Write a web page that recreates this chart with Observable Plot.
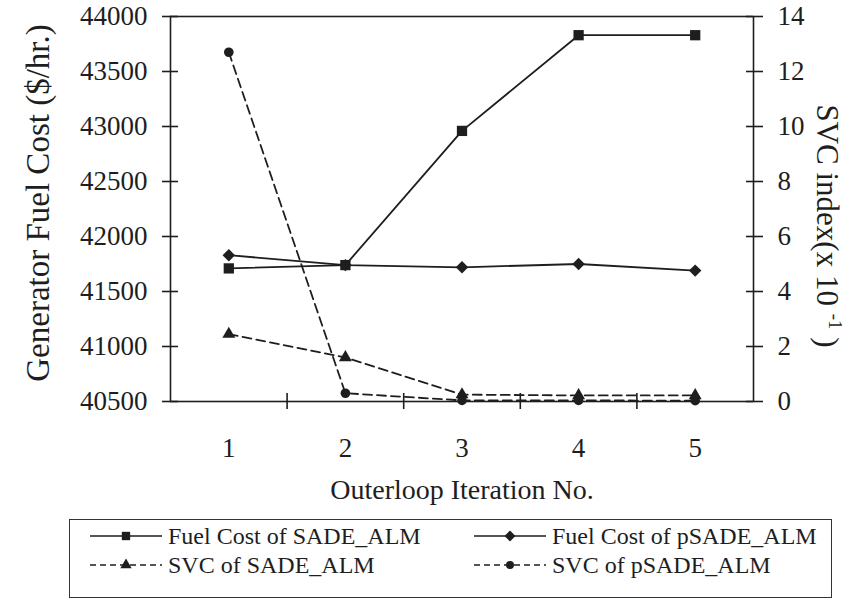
<!DOCTYPE html>
<html>
<head>
<meta charset="utf-8">
<script src="https://cdn.jsdelivr.net/npm/d3@7"></script>
<script src="https://cdn.jsdelivr.net/npm/@observablehq/plot@0.6"></script>
<style>
  html, body { margin: 0; padding: 0; background: #fff; }
  body { font-family: "Liberation Serif", "Times New Roman", serif; color: #1e1e1e; }
  #wrap { position: relative; width: 868px; height: 606px; overflow: hidden; }
  #legend { position: absolute; left: 69px; top: 519px; width: 763px; height: 79px;
            border: 1.5px solid #333; box-sizing: border-box; }
  .item { position: absolute; display: flex; align-items: center; height: 28px; }
  .item span { font-size: 24px; white-space: nowrap; margin-left: 6px; }
</style>
</head>
<body>
<div id="wrap"><div id="chart"></div><div id="legend"></div></div>
<script>
// ---- data ----
const iterations = [1, 2, 3, 4, 5];
const fuelSADE  = [41710, 41740, 42960, 43830, 43830];   // $/hr (left axis)
const fuelPSADE = [41830, 41740, 41720, 41750, 41690];   // $/hr (left axis)
const svcSADE   = [2.45, 1.6, 0.25, 0.22, 0.22];         // x 10^-1 (right axis)
const svcPSADE  = [12.7, 0.3, 0.04, 0.04, 0.03];         // x 10^-1 (right axis)
const leftTicks  = [40500, 41000, 41500, 42000, 42500, 43000, 43500, 44000];
const rightTicks = [0, 2, 4, 6, 8, 10, 12, 14];
const seriesNames = ["Fuel Cost of SADE_ALM", "Fuel Cost of pSADE_ALM", "SVC of SADE_ALM", "SVC of pSADE_ALM"];
const xTitle = "Outerloop Iteration No.";
const yTitle = "Generator Fuel Cost ($/hr.)";
const y2Title = "SVC index(x 10 -1 )";

// ---- layout ----
const W = 868, H = 510;
const mL = 170, mR = 115, mT = 16, mB = 109;
const innerW = W - mL - mR, innerH = H - mT - mB;
const ink = "#1e1e1e";

// right axis (0..14) mapped onto the left scale (40500..44000)
const toLeft = v => 40500 + v * 250;
const xBoundaries = iterations.slice(0, -1).map(d => d + 0.5);

const series = [
  {name: seriesNames[0], values: fuelSADE,  right: false, symbol: "square",   r: 5.8, dash: null},
  {name: seriesNames[1], values: fuelPSADE, right: false, symbol: "diamond2", r: 5.6, dash: null},
  {name: seriesNames[2], values: svcSADE,   right: true,  symbol: "triangle", r: 4.8, dash: "9,5"},
  {name: seriesNames[3], values: svcPSADE,  right: true,  symbol: "circle",   r: 4.8, dash: "9,5"}
];

const seriesMarks = series.flatMap(s => {
  const rows = iterations.map((it, i) => ({x: it, y: s.right ? toLeft(s.values[i]) : s.values[i]}));
  return [
    Plot.line(rows, {x: "x", y: "y", stroke: ink, strokeWidth: 1.8, strokeDasharray: s.dash}),
    Plot.dot(rows, {x: "x", y: "y", symbol: s.symbol, r: s.r, fill: ink, stroke: null})
  ];
});

const chart = Plot.plot({
  width: W, height: H,
  marginLeft: mL, marginRight: mR, marginTop: mT, marginBottom: mB,
  style: {fontFamily: '"Liberation Serif", "Times New Roman", serif', fontSize: "27px", color: ink, background: "#fff", overflow: "visible"},
  x: {domain: [0.5, 5.5], label: null},
  y: {domain: [40500, 44000], label: null},
  marks: [
    Plot.frame({stroke: ink, strokeWidth: 1.6}),
    // left axis
    Plot.axisY({ticks: leftTicks, tickSize: 8, tickPadding: 15, tickFormat: d => String(d), label: null, strokeWidth: 1.6}),
    Plot.tickY(leftTicks, {y: d => d, insetRight: innerW - 8, stroke: ink, strokeWidth: 1.6}),
    // right axis
    Plot.axisY({anchor: "right", ticks: rightTicks.map(toLeft), tickSize: 9, tickPadding: 15,
                tickFormat: d => String(Math.round((d - 40500) / 250)), label: null, strokeWidth: 1.6}),
    Plot.tickY(rightTicks.map(toLeft), {y: d => d, insetLeft: innerW - 7, stroke: ink, strokeWidth: 1.6}),
    // bottom axis: boundary ticks and category labels
    Plot.axisX({ticks: xBoundaries, tickSize: 8, tickFormat: () => "", label: null, strokeWidth: 1.6}),
    Plot.tickX(xBoundaries, {x: d => d, insetTop: innerH - 8, stroke: ink, strokeWidth: 1.6}),
    Plot.axisX({ticks: iterations, tickSize: 0, tickPadding: 36, tickFormat: d => String(d), label: null}),
    // titles
    Plot.text([xTitle], {text: d => d, frameAnchor: "bottom", dy: 89, lineAnchor: "middle", textAnchor: "middle", fontSize: 28, fill: ink}),
    Plot.text([yTitle], {text: d => d, frameAnchor: "left", dx: -132, dy: -6, rotate: -90, lineAnchor: "middle", textAnchor: "middle", fontSize: 33, fill: ink}),
    Plot.text([y2Title], {text: d => d, frameAnchor: "right", dx: 73, dy: 17, rotate: 90, lineAnchor: "middle", textAnchor: "middle", fontSize: 31, fill: ink}),
    ...seriesMarks
  ]
});
document.getElementById("chart").appendChild(chart);

// superscript for the right title
const t2 = Array.from(chart.querySelectorAll("text")).find(t => t.textContent === y2Title);
if (t2) {
  t2.textContent = "";
  const ns = "http://www.w3.org/2000/svg";
  const a = document.createElementNS(ns, "tspan"); a.textContent = "SVC index(x 10 ";
  const b = document.createElementNS(ns, "tspan"); b.textContent = "-1";
  b.setAttribute("font-size", "19"); b.setAttribute("dy", "-12");
  const c = document.createElementNS(ns, "tspan"); c.textContent = " )"; c.setAttribute("dy", "12");
  t2.append(a, b, c);
}

// ---- legend ----
const legend = d3.select("#legend");
const pos = [[20, 16], [404, 16], [20, 45], [404, 45]];
const symMap = {square: d3.symbolSquare, diamond2: d3.symbolDiamond2, triangle: d3.symbolTriangle, circle: d3.symbolCircle};
const symSize = {square: 70, diamond2: 75, triangle: 55, circle: 50};
series.forEach((s, i) => {
  const item = legend.append("div").attr("class", "item")
    .style("left", pos[i][0] + "px").style("top", (pos[i][1] - 14) + "px");
  const svg = item.append("svg").attr("width", 72).attr("height", 28);
  svg.append("line").attr("x1", 0).attr("x2", 72).attr("y1", 14).attr("y2", 14)
    .attr("stroke", ink).attr("stroke-width", 1.6).attr("stroke-dasharray", s.dash ? "6,4" : null);
  svg.append("path").attr("transform", "translate(36,14)")
    .attr("d", d3.symbol(symMap[s.symbol], symSize[s.symbol])()).attr("fill", ink);
  item.append("span").text(s.name);
});
</script>
</body>
</html>
